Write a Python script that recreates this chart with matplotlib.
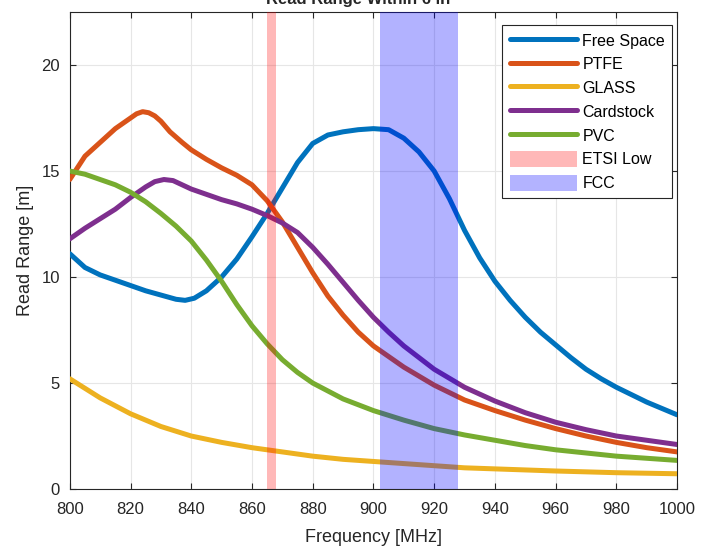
import matplotlib
matplotlib.use("Agg")
import matplotlib.pyplot as plt
from matplotlib.patches import Patch

plt.rcParams['font.family'] = ['Liberation Sans', 'DejaVu Sans']

title_text = "Read Range Within 6 in"
x_label = "Frequency [MHz]"
y_label = "Read Range [m]"

free_f = [800, 805, 810, 815, 820, 825, 830, 835, 838, 841, 845, 850, 855, 860, 865, 870,
          875, 880, 885, 890, 895, 900, 905, 910, 915, 920, 925, 930, 935, 940, 945, 950,
          955, 960, 965, 970, 975, 980, 985, 990, 995, 1000]
free_v = [11.1, 10.45, 10.1, 9.85, 9.6, 9.35, 9.15, 8.95, 8.9, 9.0, 9.35, 10.0, 10.85, 11.9,
          13.0, 14.2, 15.4, 16.3, 16.7, 16.85, 16.95, 17.0, 16.95, 16.55, 15.9, 15.0, 13.7,
          12.2, 10.9, 9.8, 8.9, 8.1, 7.4, 6.8, 6.2, 5.65, 5.2, 4.8, 4.45, 4.1, 3.8, 3.5]

ptfe_f = [800, 805, 810, 815, 820, 822, 824, 826, 828, 830, 833, 837, 840, 845, 850, 855,
          860, 865, 870, 875, 880, 885, 890, 895, 900, 910, 920, 930, 940, 950, 960, 970,
          980, 990, 1000]
ptfe_v = [14.6, 15.7, 16.35, 17.0, 17.5, 17.7, 17.8, 17.75, 17.6, 17.35, 16.85, 16.35, 16.0,
          15.55, 15.15, 14.8, 14.35, 13.6, 12.6, 11.4, 10.2, 9.1, 8.2, 7.4, 6.75, 5.75, 4.9,
          4.2, 3.7, 3.25, 2.85, 2.5, 2.2, 1.95, 1.75]

glass_f = [800, 810, 820, 830, 840, 850, 860, 870, 880, 890, 900, 910, 920, 930, 940, 960,
           980, 1000]
glass_v = [5.2, 4.3, 3.55, 2.95, 2.5, 2.2, 1.95, 1.75, 1.55, 1.4, 1.3, 1.2, 1.1, 1.0, 0.95,
           0.85, 0.77, 0.72]

card_f = [800, 805, 810, 815, 820, 825, 828, 831, 834, 837, 840, 845, 850, 855, 860, 865,
          870, 875, 880, 885, 890, 895, 900, 905, 910, 920, 930, 940, 950, 960, 970, 980,
          990, 1000]
card_v = [11.8, 12.3, 12.75, 13.2, 13.75, 14.25, 14.5, 14.6, 14.55, 14.35, 14.15, 13.9,
          13.65, 13.45, 13.2, 12.9, 12.55, 12.1, 11.4, 10.6, 9.75, 8.9, 8.1, 7.4, 6.75, 5.65,
          4.8, 4.15, 3.6, 3.15, 2.8, 2.5, 2.3, 2.1]

pvc_f = [800, 805, 810, 815, 820, 825, 830, 835, 840, 845, 850, 855, 860, 865, 870, 875,
         880, 890, 900, 910, 920, 930, 940, 950, 960, 970, 980, 990, 1000]
pvc_v = [15.0, 14.85, 14.6, 14.35, 14.0, 13.55, 13.0, 12.4, 11.7, 10.8, 9.8, 8.7, 7.7,
         6.85, 6.1, 5.5, 5.0, 4.25, 3.7, 3.25, 2.85, 2.55, 2.3, 2.05, 1.85, 1.7, 1.55,
         1.45, 1.35]

etsi_band = [865, 868]
fcc_band = [902, 928]

series = [
    ("Free Space", free_f, free_v, "#0072BD"),
    ("PTFE", ptfe_f, ptfe_v, "#D95319"),
    ("GLASS", glass_f, glass_v, "#EDB120"),
    ("Cardstock", card_f, card_v, "#7E2F8E"),
    ("PVC", pvc_f, pvc_v, "#77AC30"),
]

fig = plt.figure(figsize=(7.12, 5.47), dpi=100)
ax = fig.add_axes([0.098, 0.106, 0.853, 0.872])

handles = []
for name, f, v, c in series:
    h, = ax.plot(f, v, color=c, lw=3.6, label=name, solid_capstyle='round',
                 solid_joinstyle='round', zorder=3)
    handles.append(h)

ax.axvspan(etsi_band[0], etsi_band[1], color=(1.0, 0.0, 0.0), alpha=0.28, lw=0, zorder=4)
ax.axvspan(fcc_band[0], fcc_band[1], color=(0.0, 0.0, 1.0), alpha=0.30, lw=0, zorder=4)
handles.append(Patch(facecolor=(1.0, 0.72, 0.72), edgecolor='none', label="ETSI Low"))
handles.append(Patch(facecolor=(0.70, 0.70, 1.0), edgecolor='none', label="FCC"))

ax.set_xlim(800, 1000)
ax.set_ylim(0, 22.5)
ax.set_xticks(range(800, 1001, 20))
ax.set_yticks([0, 5, 10, 15, 20])
ax.grid(True, color='#e6e6e6', lw=0.8)
ax.set_axisbelow(True)
ax.tick_params(direction='in', top=True, right=True, labelsize=12, colors='#262626',
               length=4, width=0.8)
ax.tick_params(axis='x', pad=9)
ax.tick_params(axis='y', pad=7)
for s in ax.spines.values():
    s.set_color('#262626')
    s.set_linewidth(0.8)

ax.set_xlabel(x_label, fontsize=13, color='#262626', labelpad=9)
ax.set_ylabel(y_label, fontsize=13, color='#262626', labelpad=5)

leg = ax.legend(handles=handles, loc='upper right', bbox_to_anchor=(0.992, 0.973),
                borderaxespad=0, fontsize=11.5, frameon=True,
                fancybox=False, framealpha=1, edgecolor='#262626', handlelength=4.2,
                handleheight=1.2, borderpad=0.45, labelspacing=0.45, handletextpad=0.35)
leg.get_frame().set_linewidth(0.8)

fig.text(0.503, 1.0 - 4 / 547, title_text, ha='center', va='baseline', fontsize=12,
         fontweight='bold', color='#262626', zorder=10)

fig.savefig("out.png", dpi=100)
